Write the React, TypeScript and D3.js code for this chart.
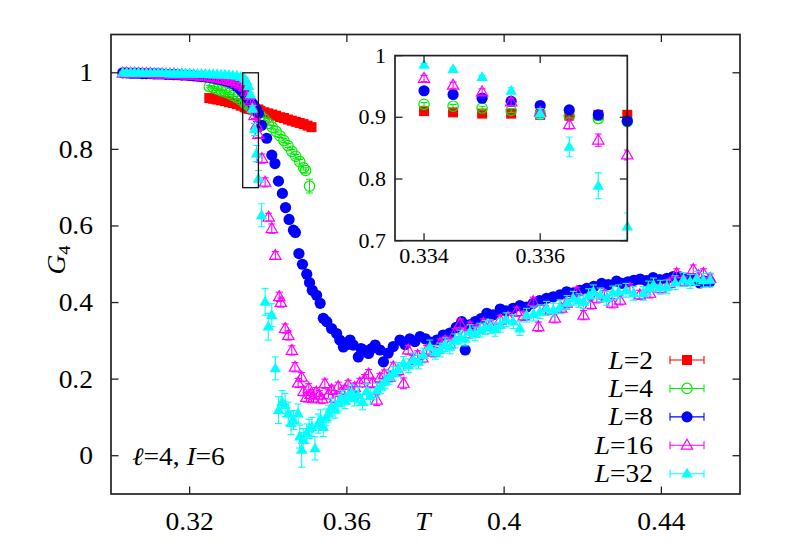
import React from "react";
import * as d3 from "d3";

// [T, G4, error]
type Pt = [number, number, number];

const L2: Pt[] = [
  [0.325, 0.934, 0.003], [0.326, 0.932, 0.003], [0.327, 0.930, 0.003], [0.328, 0.928, 0.003],
  [0.329, 0.926, 0.003], [0.330, 0.923, 0.003], [0.331, 0.921, 0.003], [0.332, 0.918, 0.003],
  [0.333, 0.914, 0.003], [0.334, 0.910, 0.003], [0.3345, 0.908, 0.003], [0.335, 0.906, 0.003],
  [0.3355, 0.906, 0.003], [0.336, 0.904, 0.003], [0.3365, 0.903, 0.003], [0.337, 0.904, 0.003],
  [0.3375, 0.904, 0.003], [0.338, 0.900, 0.003], [0.339, 0.897, 0.003], [0.340, 0.894, 0.003],
  [0.341, 0.891, 0.003], [0.342, 0.888, 0.003], [0.343, 0.884, 0.003], [0.344, 0.882, 0.003],
  [0.345, 0.878, 0.003], [0.346, 0.875, 0.003], [0.347, 0.872, 0.003], [0.348, 0.869, 0.003],
  [0.349, 0.866, 0.003], [0.350, 0.862, 0.003], [0.351, 0.858, 0.003],
];

const L4: Pt[] = [
  [0.325, 0.964, 0.003], [0.326, 0.961, 0.003], [0.327, 0.957, 0.003], [0.328, 0.953, 0.003],
  [0.329, 0.950, 0.003], [0.330, 0.946, 0.003], [0.331, 0.941, 0.003], [0.332, 0.936, 0.003],
  [0.333, 0.929, 0.003], [0.334, 0.921, 0.003], [0.3345, 0.918, 0.003], [0.335, 0.915, 0.003],
  [0.3355, 0.911, 0.003], [0.336, 0.905, 0.003], [0.3365, 0.902, 0.003], [0.337, 0.898, 0.003],
  [0.3375, 0.893, 0.003], [0.338, 0.888, 0.004], [0.339, 0.879, 0.004], [0.340, 0.868, 0.004],
  [0.341, 0.858, 0.004], [0.342, 0.847, 0.004], [0.343, 0.835, 0.004], [0.344, 0.823, 0.005],
  [0.345, 0.810, 0.005], [0.346, 0.795, 0.005], [0.347, 0.782, 0.005], [0.348, 0.768, 0.006],
  [0.349, 0.752, 0.006], [0.3495, 0.745, 0.007], [0.3505, 0.704, 0.018],
];

const L8: Pt[] = [
  [0.303, 1.000, 0.002], [0.304, 1.000, 0.002], [0.305, 0.999, 0.002], [0.306, 0.999, 0.002],
  [0.307, 0.999, 0.002], [0.308, 0.998, 0.002], [0.309, 0.998, 0.002], [0.310, 0.998, 0.002],
  [0.311, 0.997, 0.002], [0.312, 0.997, 0.002], [0.313, 0.997, 0.002], [0.314, 0.996, 0.002],
  [0.315, 0.996, 0.002], [0.316, 0.995, 0.002], [0.317, 0.995, 0.002], [0.318, 0.994, 0.002],
  [0.319, 0.994, 0.002], [0.320, 0.993, 0.002], [0.321, 0.992, 0.002], [0.322, 0.991, 0.002],
  [0.323, 0.990, 0.002], [0.324, 0.989, 0.002], [0.325, 0.988, 0.002], [0.326, 0.986, 0.002],
  [0.327, 0.984, 0.002], [0.328, 0.982, 0.002], [0.329, 0.979, 0.002], [0.330, 0.976, 0.002],
  [0.331, 0.972, 0.003], [0.332, 0.965, 0.003], [0.333, 0.955, 0.003], [0.334, 0.943, 0.003],
  [0.3345, 0.937, 0.003], [0.335, 0.931, 0.003], [0.3355, 0.926, 0.003], [0.336, 0.919, 0.003],
  [0.3365, 0.912, 0.003], [0.337, 0.904, 0.003], [0.3375, 0.894, 0.003], [0.3383, 0.863, 0.005],
  [0.3396, 0.829, 0.005], [0.3409, 0.785, 0.006], [0.3417, 0.763, 0.006], [0.3426, 0.717, 0.006],
  [0.3436, 0.685, 0.007], [0.3444, 0.648, 0.007], [0.3453, 0.617, 0.007], [0.3464, 0.589, 0.007],
  [0.3469, 0.583, 0.007], [0.3478, 0.528, 0.008], [0.3487, 0.500, 0.008], [0.3498, 0.474, 0.008],
  [0.3505, 0.452, 0.008], [0.3512, 0.432, 0.008], [0.3523, 0.419, 0.008], [0.3532, 0.398, 0.009],
  [0.3540, 0.359, 0.009], [0.3549, 0.350, 0.009], [0.3561, 0.332, 0.009], [0.3574, 0.319, 0.009],
  [0.3582, 0.302, 0.009], [0.3591, 0.284, 0.010], [0.3600, 0.290, 0.010], [0.3608, 0.302, 0.010],
  [0.3616, 0.289, 0.010], [0.3629, 0.258, 0.010], [0.3636, 0.280, 0.010], [0.3642, 0.276, 0.010],
  [0.3655, 0.267, 0.010], [0.3663, 0.280, 0.010], [0.3672, 0.289, 0.010], [0.3684, 0.276, 0.010],
  [0.3693, 0.245, 0.010], [0.3705, 0.268, 0.010], [0.3718, 0.285, 0.010], [0.3735, 0.302, 0.010],
  [0.3748, 0.290, 0.010], [0.3760, 0.305, 0.010], [0.3773, 0.298, 0.010], [0.3786, 0.311, 0.010],
  [0.3800, 0.305, 0.010], [0.3815, 0.296, 0.010], [0.3829, 0.302, 0.010], [0.3845, 0.315, 0.010],
  [0.3862, 0.320, 0.010], [0.3878, 0.335, 0.010], [0.3892, 0.350, 0.010], [0.3901, 0.276, 0.010],
  [0.3912, 0.342, 0.010], [0.3926, 0.350, 0.010], [0.3941, 0.358, 0.010], [0.3956, 0.372, 0.010],
  [0.3972, 0.368, 0.010], [0.3990, 0.383, 0.010], [0.4005, 0.378, 0.010], [0.4023, 0.385, 0.010],
  [0.4040, 0.392, 0.010], [0.4057, 0.388, 0.010], [0.4074, 0.398, 0.010], [0.4090, 0.405, 0.010],
  [0.4108, 0.411, 0.010], [0.4125, 0.415, 0.010], [0.4142, 0.420, 0.010], [0.4159, 0.428, 0.010],
  [0.4176, 0.425, 0.010], [0.4193, 0.432, 0.010], [0.4210, 0.437, 0.010], [0.4228, 0.442, 0.010],
  [0.4248, 0.450, 0.010], [0.4265, 0.447, 0.010], [0.4286, 0.456, 0.010], [0.4300, 0.450, 0.010],
  [0.4315, 0.454, 0.010], [0.4330, 0.458, 0.010], [0.4346, 0.461, 0.010], [0.4362, 0.457, 0.010],
  [0.4379, 0.465, 0.010], [0.4396, 0.460, 0.010], [0.4414, 0.463, 0.010], [0.4430, 0.468, 0.010],
  [0.4447, 0.467, 0.010], [0.4465, 0.462, 0.010], [0.4480, 0.458, 0.010], [0.4498, 0.451, 0.010],
  [0.4510, 0.456, 0.010], [0.4523, 0.454, 0.010],
];

const L16: Pt[] = [
  [0.303, 0.999, 0.002], [0.304, 0.999, 0.002], [0.305, 0.999, 0.002], [0.306, 0.999, 0.002],
  [0.307, 0.998, 0.002], [0.308, 0.998, 0.002], [0.309, 0.998, 0.002], [0.310, 0.998, 0.002],
  [0.311, 0.997, 0.002], [0.312, 0.997, 0.002], [0.313, 0.997, 0.002], [0.314, 0.996, 0.002],
  [0.315, 0.996, 0.002], [0.316, 0.996, 0.002], [0.317, 0.995, 0.002], [0.318, 0.995, 0.002],
  [0.319, 0.994, 0.002], [0.320, 0.994, 0.002], [0.321, 0.993, 0.002], [0.322, 0.992, 0.002],
  [0.323, 0.991, 0.002], [0.324, 0.990, 0.002], [0.325, 0.989, 0.002], [0.326, 0.988, 0.002],
  [0.327, 0.986, 0.002], [0.328, 0.984, 0.002], [0.329, 0.982, 0.002], [0.330, 0.980, 0.003],
  [0.331, 0.977, 0.003], [0.332, 0.973, 0.003], [0.333, 0.968, 0.004], [0.334, 0.963, 0.005],
  [0.3345, 0.952, 0.005], [0.335, 0.941, 0.005], [0.3355, 0.925, 0.006], [0.336, 0.908, 0.006],
  [0.3365, 0.888, 0.007], [0.337, 0.863, 0.010], [0.3375, 0.839, 0.008], [0.3384, 0.776, 0.012],
  [0.3392, 0.714, 0.012], [0.3401, 0.623, 0.010], [0.3409, 0.593, 0.012], [0.3418, 0.523, 0.010],
  [0.3428, 0.415, 0.012], [0.3432, 0.400, 0.012], [0.3443, 0.332, 0.012], [0.3451, 0.314, 0.012],
  [0.3460, 0.275, 0.012], [0.3468, 0.231, 0.012], [0.3476, 0.190, 0.012], [0.3485, 0.205, 0.012],
  [0.3490, 0.168, 0.012], [0.3497, 0.152, 0.012], [0.3503, 0.176, 0.012], [0.3508, 0.160, 0.012],
  [0.3515, 0.150, 0.012], [0.3522, 0.166, 0.012], [0.3530, 0.158, 0.012], [0.3537, 0.148, 0.012],
  [0.3544, 0.188, 0.012], [0.3553, 0.160, 0.012], [0.3561, 0.172, 0.012], [0.3570, 0.150, 0.012],
  [0.3578, 0.180, 0.012], [0.3586, 0.165, 0.012], [0.3595, 0.172, 0.012], [0.3603, 0.185, 0.012],
  [0.3612, 0.168, 0.012], [0.3620, 0.178, 0.012], [0.3633, 0.190, 0.012], [0.3645, 0.200, 0.012],
  [0.3655, 0.213, 0.012], [0.3665, 0.190, 0.012], [0.3676, 0.145, 0.014], [0.3684, 0.203, 0.012],
  [0.3695, 0.212, 0.012], [0.3708, 0.205, 0.012], [0.3718, 0.232, 0.012], [0.3730, 0.222, 0.012],
  [0.3744, 0.189, 0.014], [0.3756, 0.276, 0.012], [0.3768, 0.250, 0.012], [0.3780, 0.262, 0.012],
  [0.3792, 0.255, 0.012], [0.3803, 0.276, 0.012], [0.3820, 0.270, 0.012], [0.3837, 0.293, 0.012],
  [0.3850, 0.300, 0.012], [0.3862, 0.292, 0.012], [0.3875, 0.320, 0.012], [0.3888, 0.345, 0.012],
  [0.3900, 0.318, 0.012], [0.3913, 0.337, 0.012], [0.3930, 0.330, 0.012], [0.3947, 0.345, 0.012],
  [0.3965, 0.340, 0.012], [0.3990, 0.354, 0.012], [0.4010, 0.362, 0.012], [0.4032, 0.376, 0.012],
  [0.4050, 0.365, 0.012], [0.4074, 0.402, 0.012], [0.4087, 0.337, 0.012], [0.4105, 0.380, 0.012],
  [0.4129, 0.359, 0.012], [0.4145, 0.385, 0.012], [0.4159, 0.398, 0.012], [0.4185, 0.428, 0.012],
  [0.4202, 0.367, 0.012], [0.4220, 0.395, 0.012], [0.4236, 0.411, 0.012], [0.4255, 0.420, 0.012],
  [0.4275, 0.398, 0.012], [0.4295, 0.406, 0.012], [0.4320, 0.437, 0.012], [0.4345, 0.420, 0.012],
  [0.4371, 0.424, 0.012], [0.4397, 0.437, 0.012], [0.4420, 0.450, 0.012], [0.4439, 0.476, 0.012],
  [0.4460, 0.455, 0.012], [0.4481, 0.486, 0.012], [0.4495, 0.470, 0.012], [0.4507, 0.476, 0.012],
  [0.4524, 0.463, 0.012],
];

const L32: Pt[] = [
  [0.303, 1.000, 0.002], [0.304, 1.000, 0.002], [0.305, 1.000, 0.002], [0.306, 1.000, 0.002],
  [0.307, 1.000, 0.002], [0.308, 0.999, 0.002], [0.309, 0.999, 0.002], [0.310, 0.999, 0.002],
  [0.311, 0.999, 0.002], [0.312, 0.999, 0.002], [0.313, 0.999, 0.002], [0.314, 0.999, 0.002],
  [0.315, 0.998, 0.002], [0.316, 0.998, 0.002], [0.317, 0.998, 0.002], [0.318, 0.998, 0.002],
  [0.319, 0.998, 0.002], [0.320, 0.998, 0.002], [0.321, 0.997, 0.002], [0.322, 0.997, 0.002],
  [0.323, 0.997, 0.002], [0.324, 0.997, 0.002], [0.325, 0.996, 0.002], [0.326, 0.996, 0.002],
  [0.327, 0.996, 0.002], [0.328, 0.995, 0.002], [0.329, 0.995, 0.002], [0.330, 0.994, 0.002],
  [0.331, 0.993, 0.002], [0.332, 0.992, 0.002], [0.333, 0.989, 0.002], [0.334, 0.985, 0.002],
  [0.3345, 0.978, 0.002], [0.335, 0.965, 0.003], [0.3355, 0.943, 0.005], [0.336, 0.906, 0.008],
  [0.3365, 0.852, 0.016], [0.337, 0.789, 0.021], [0.3375, 0.723, 0.022], [0.3383, 0.628, 0.030],
  [0.3392, 0.402, 0.035], [0.3400, 0.337, 0.035], [0.3409, 0.367, 0.030], [0.3418, 0.228, 0.030],
  [0.3426, 0.119, 0.035], [0.3435, 0.140, 0.030], [0.3443, 0.132, 0.030], [0.3451, 0.110, 0.030],
  [0.3458, 0.085, 0.030], [0.3464, 0.093, 0.025], [0.3476, 0.110, 0.025], [0.3480, 0.050, 0.030],
  [0.3485, 0.015, 0.045], [0.3489, 0.041, 0.030], [0.3498, 0.058, 0.025], [0.3504, 0.070, 0.025],
  [0.3511, 0.075, 0.025], [0.3519, 0.019, 0.030], [0.3527, 0.084, 0.025], [0.3533, 0.095, 0.025],
  [0.3540, 0.075, 0.025], [0.3547, 0.100, 0.022], [0.3553, 0.110, 0.022], [0.3561, 0.128, 0.022],
  [0.3570, 0.120, 0.022], [0.3578, 0.137, 0.020], [0.3586, 0.150, 0.020], [0.3595, 0.143, 0.020],
  [0.3603, 0.155, 0.020], [0.3612, 0.165, 0.020], [0.3620, 0.150, 0.020], [0.3629, 0.158, 0.020],
  [0.3640, 0.140, 0.020], [0.3650, 0.168, 0.020], [0.3660, 0.155, 0.020], [0.3676, 0.171, 0.018],
  [0.3686, 0.180, 0.018], [0.3697, 0.193, 0.018], [0.3708, 0.205, 0.018], [0.3718, 0.215, 0.018],
  [0.3730, 0.225, 0.018], [0.3744, 0.241, 0.018], [0.3757, 0.235, 0.018], [0.3770, 0.250, 0.018],
  [0.3782, 0.245, 0.018], [0.3794, 0.263, 0.018], [0.3811, 0.284, 0.018], [0.3825, 0.270, 0.018],
  [0.3837, 0.276, 0.018], [0.3850, 0.290, 0.018], [0.3862, 0.284, 0.018], [0.3875, 0.300, 0.018],
  [0.3888, 0.310, 0.018], [0.3900, 0.305, 0.018], [0.3913, 0.324, 0.018], [0.3926, 0.318, 0.018],
  [0.3939, 0.328, 0.018], [0.3952, 0.335, 0.018], [0.3964, 0.337, 0.018], [0.3977, 0.330, 0.018],
  [0.3990, 0.341, 0.018], [0.4005, 0.355, 0.018], [0.4023, 0.350, 0.018], [0.4040, 0.332, 0.018],
  [0.4057, 0.367, 0.018], [0.4075, 0.370, 0.018], [0.4091, 0.376, 0.018], [0.4108, 0.385, 0.018],
  [0.4125, 0.380, 0.018], [0.4142, 0.389, 0.018], [0.4160, 0.400, 0.018], [0.4176, 0.411, 0.018],
  [0.4190, 0.405, 0.018], [0.4202, 0.402, 0.018], [0.4215, 0.418, 0.018], [0.4227, 0.428, 0.018],
  [0.4245, 0.420, 0.018], [0.4261, 0.411, 0.018], [0.4276, 0.425, 0.018], [0.4291, 0.428, 0.018],
  [0.4310, 0.432, 0.018], [0.4329, 0.424, 0.018], [0.4354, 0.424, 0.018], [0.4367, 0.438, 0.018],
  [0.4380, 0.446, 0.018], [0.4397, 0.440, 0.018], [0.4414, 0.441, 0.018], [0.4435, 0.452, 0.018],
  [0.4456, 0.460, 0.018], [0.4473, 0.455, 0.018], [0.4490, 0.463, 0.018], [0.4507, 0.458, 0.018],
  [0.4524, 0.459, 0.018],
];

const SIZES = ["2", "4", "8", "16", "32"];
const COLORS = ["#ff0000", "#00ee00", "#0000ff", "#ff00ff", "#00ffff"];
const SHAPES = ["square", "circleOpen", "circle", "triOpen", "tri"];
const SERIES = [L2, L4, L8, L16, L32];

const X_TICKS = [0.32, 0.36, 0.4, 0.44];
const Y_TICKS = [0, 0.2, 0.4, 0.6, 0.8, 1];
const INSET_X_TICKS = [0.334, 0.336];
const INSET_Y_TICKS = [0.7, 0.8, 0.9, 1];

const FONT = "'Liberation Serif', 'Times New Roman', serif";
const SX = 1.1; // text in the source is slightly wide

const W = 789;
const H = 552;

const x = d3.scaleLinear().domain([0.3, 0.46]).range([111, 740]);
const y = d3.scaleLinear().domain([-0.1, 1.1]).range([494, 34.5]);
const ix = d3.scaleLinear().domain([0.3335, 0.3375]).range([395, 627.3]);
const iy = d3.scaleLinear().domain([0.7, 1]).range([240.7, 55.6]);

const fmt = (v: number) => String(+v.toFixed(3));

function Txt({ x, y, size = 25, anchor = "start", children }: any) {
  return (
    <text
      transform={`translate(${x},${y}) scale(${SX},1)`}
      fontSize={size}
      fontFamily={FONT}
      textAnchor={anchor}
      fill="#000"
    >
      {children}
    </text>
  );
}

function Marker({ shape, cx, cy, color }: any) {
  if (shape === "square")
    return <rect x={cx - 5} y={cy - 5} width={10} height={10} fill={color} />;
  if (shape === "circleOpen")
    return <circle cx={cx} cy={cy} r={5.2} fill="none" stroke={color} strokeWidth={1.2} />;
  if (shape === "circle") return <circle cx={cx} cy={cy} r={5.6} fill={color} />;
  const d = `M${cx},${cy - 6}L${cx + 5.7},${cy + 3.9}L${cx - 5.7},${cy + 3.9}Z`;
  if (shape === "triOpen") return <path d={d} fill="none" stroke={color} strokeWidth={1.2} />;
  return <path d={d} fill={color} />;
}

function Points({ xs, ys, clip, cap = 3.5 }: any) {
  const [x0, x1] = xs.domain();
  return (
    <g>
      {SERIES.map((data, si) => {
        const pts = data.filter((p) => p[0] >= x0 - 1e-9 && p[0] <= x1 + 1e-9);
        return (
          <g key={si}>
            <g clipPath={`url(#${clip})`} stroke={COLORS[si]} strokeWidth={1.1}>
              {pts.map((p, i) => {
                const px = xs(p[0]);
                const ya = ys(p[1] - p[2]);
                const yb = ys(p[1] + p[2]);
                return (
                  <g key={i}>
                    <line x1={px} x2={px} y1={ya} y2={yb} />
                    <line x1={px - cap} x2={px + cap} y1={ya} y2={ya} />
                    <line x1={px - cap} x2={px + cap} y1={yb} y2={yb} />
                  </g>
                );
              })}
            </g>
            {pts.map((p, i) => (
              <Marker key={i} shape={SHAPES[si]} cx={xs(p[0])} cy={ys(p[1])} color={COLORS[si]} />
            ))}
          </g>
        );
      })}
    </g>
  );
}

function Frame({ xs, ys, xt, yt, tick = 7.5 }: any) {
  const [l, r] = xs.range();
  const [b, t] = ys.range();
  return (
    <g stroke="#222" strokeWidth={1.3} fill="none">
      {xt.map((v: number) => (
        <g key={"x" + v}>
          <line x1={xs(v)} x2={xs(v)} y1={b} y2={b - tick} />
          <line x1={xs(v)} x2={xs(v)} y1={t} y2={t + tick} />
        </g>
      ))}
      {yt.map((v: number) => (
        <g key={"y" + v}>
          <line x1={l} x2={l + tick} y1={ys(v)} y2={ys(v)} />
          <line x1={r} x2={r - tick} y1={ys(v)} y2={ys(v)} />
        </g>
      ))}
      <rect x={l} y={t} width={r - l} height={b - t} strokeWidth={1.7} />
    </g>
  );
}

export default function App() {
  const legendY = d3.scaleLinear().domain([0, 4]).range([360, 473.7]);
  return (
    <svg
      width={W}
      height={H}
      style={{ position: "absolute", left: 0, top: 0, background: "#fff" }}
    >
      <defs>
        <clipPath id="mainClip">
          <rect x={111} y={34.5} width={629} height={459.5} />
        </clipPath>
        <clipPath id="insetClip">
          <rect x={395} y={55.6} width={232.3} height={185.1} />
        </clipPath>
      </defs>

      {/* main plot */}
      <Points xs={x} ys={y} clip="mainClip" />
      <Frame xs={x} ys={y} xt={X_TICKS} yt={Y_TICKS} />
      {Y_TICKS.map((v) => (
        <Txt key={v} x={93} y={y(v) + 8.5} anchor="end">
          {fmt(v)}
        </Txt>
      ))}
      {X_TICKS.map((v) => (
        <Txt key={v} x={x(v)} y={529.5} anchor="middle">
          {fmt(v)}
        </Txt>
      ))}
      <Txt x={423} y={529.5} anchor="middle">
        <tspan fontStyle="italic">T</tspan>
      </Txt>
      <text
        transform={`translate(65,260) rotate(-90) scale(${SX},1)`}
        fontSize={25}
        fontFamily={FONT}
        textAnchor="middle"
      >
        <tspan fontStyle="italic">G</tspan>
        <tspan fontSize={17} dy={5}>4</tspan>
      </text>
      <Txt x={132} y={464.5}>
        <tspan fontStyle="italic">ℓ</tspan>=4, <tspan fontStyle="italic">I</tspan>=6
      </Txt>

      {/* zoom box */}
      <rect
        x={x(0.3335)}
        y={y(1)}
        width={x(0.3375) - x(0.3335)}
        height={y(0.7) - y(1)}
        fill="none"
        stroke="#111"
        strokeWidth={1.3}
      />

      {/* legend */}
      {SIZES.map((s, i) => {
        const ly = legendY(i);
        return (
          <g key={s}>
            <Txt x={653} y={ly + 8.5} anchor="end">
              <tspan fontStyle="italic">L</tspan>={s}
            </Txt>
            <g stroke={COLORS[i]} strokeWidth={1.1}>
              <line x1={670} x2={704} y1={ly} y2={ly} />
              <line x1={670} x2={670} y1={ly - 4} y2={ly + 4} />
              <line x1={704} x2={704} y1={ly - 4} y2={ly + 4} />
            </g>
            <Marker shape={SHAPES[i]} cx={687} cy={ly} color={COLORS[i]} />
          </g>
        );
      })}

      {/* inset */}
      <Points xs={ix} ys={iy} clip="insetClip" />
      <Frame xs={ix} ys={iy} xt={INSET_X_TICKS} yt={INSET_Y_TICKS} />
      {INSET_Y_TICKS.map((v) => (
        <Txt key={v} x={386} y={iy(v) + 7} size={20} anchor="end">
          {fmt(v)}
        </Txt>
      ))}
      {INSET_X_TICKS.map((v) => (
        <Txt key={v} x={ix(v)} y={263} size={20} anchor="middle">
          {fmt(v)}
        </Txt>
      ))}
    </svg>
  );
}
